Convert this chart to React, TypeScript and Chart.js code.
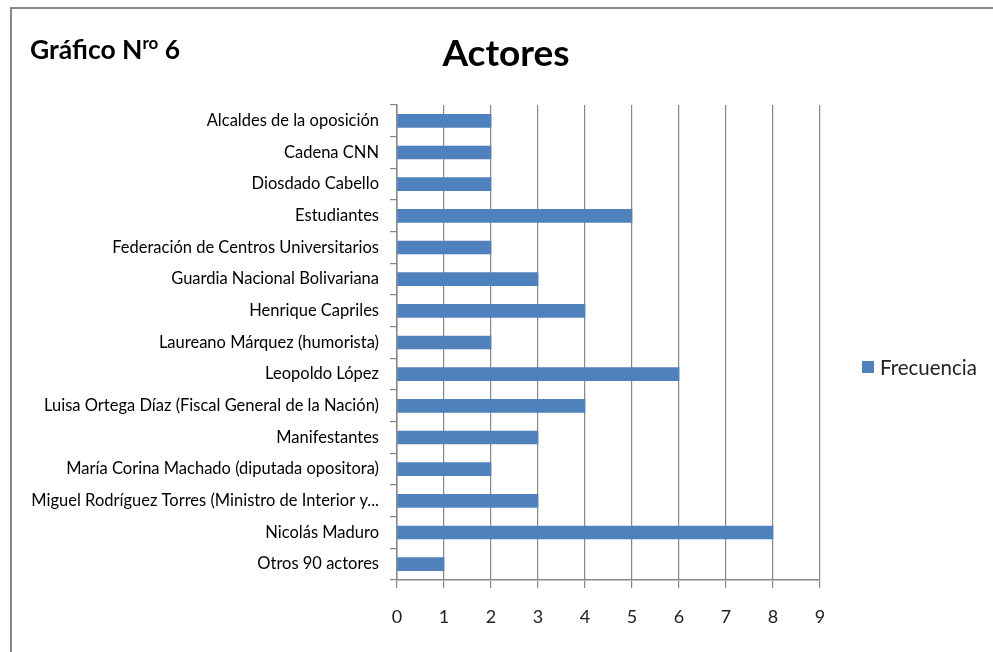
import React, { useEffect, useRef } from "react";
import { Chart, registerables } from "chart.js";

Chart.register(...registerables);

const categories = [
  "Alcaldes de la oposición",
  "Cadena CNN",
  "Diosdado Cabello",
  "Estudiantes",
  "Federación de Centros Universitarios",
  "Guardia Nacional Bolivariana",
  "Henrique Capriles",
  "Laureano Márquez (humorista)",
  "Leopoldo López",
  "Luisa Ortega Díaz (Fiscal General de la Nación)",
  "Manifestantes",
  "María Corina Machado (diputada opositora)",
  "Miguel Rodríguez Torres (Ministro de Interior y...",
  "Nicolás Maduro",
  "Otros 90 actores",
];
const frecuencia = [2, 2, 2, 5, 2, 3, 4, 2, 6, 4, 3, 2, 3, 8, 1];
const xTicks = [0, 1, 2, 3, 4, 5, 6, 7, 8, 9];
const seriesName = "Frecuencia";
const chartTitle = "Actores";

const FONT = "Lato, 'Open Sans', sans-serif";
const BAR = "#4F81BD";
const GRID = "#878787";

export default function App() {
  const ref = useRef<HTMLCanvasElement | null>(null);
  useEffect(() => {
    document.documentElement.style.overflow = "hidden";
    document.body.style.overflow = "hidden";
    document.body.style.margin = "0";
    if (!ref.current) return;
    const chart = new Chart(ref.current, {
      type: "bar",
      data: {
        labels: categories,
        datasets: [
          {
            label: seriesName,
            data: frecuencia,
            backgroundColor: BAR,
            borderWidth: 0,
            barThickness: 13,
          },
        ],
      },
      options: {
        indexAxis: "y",
        animation: false,
        responsive: false,
        maintainAspectRatio: false,
        layout: { padding: { left: 10, right: 173, top: 105, bottom: 0 } },
        plugins: {
          legend: { display: false },
          title: { display: false },
          tooltip: { enabled: false },
        },
        scales: {
          x: {
            type: "linear",
            min: 0,
            max: 9,
            afterBuildTicks: (s: any) => {
              s.ticks = xTicks.map((v) => ({ value: v }));
            },
            afterFit: (s: any) => {
              s.height = 72;
            },
            border: { display: true, color: GRID, width: 1.5 },
            grid: {
              color: GRID,
              lineWidth: 1.2,
              drawTicks: true,
              tickLength: 8,
              tickColor: GRID,
            },
            ticks: {
              color: "#222",
              font: { family: FONT, size: 18 },
              padding: 18,
              autoSkip: false,
            },
          },
          y: {
            afterFit: (s: any) => {
              s.width = 387;
            },
            border: { display: true, color: GRID, width: 1.5 },
            grid: {
              offset: true,
              drawOnChartArea: false,
              drawTicks: true,
              tickLength: 7,
              tickColor: GRID,
              lineWidth: 1.2,
            },
            ticks: {
              color: "#000",
              font: { family: FONT, size: 16.5 },
              padding: 11,
              autoSkip: false,
            },
          },
        },
      },
    });
    return () => chart.destroy();
  }, []);

  return (
    <div
      style={{
        position: "fixed",
        left: 0,
        top: 0,
        width: 993,
        height: 652,
        background: "#fff",
        overflow: "hidden",
        fontFamily: FONT,
      }}
    >
      <div
        style={{
          position: "absolute",
          left: 10,
          top: 7,
          width: 983,
          height: 2,
          background: "#888",
        }}
      />
      <div
        style={{
          position: "absolute",
          left: 10,
          top: 7,
          width: 2,
          height: 645,
          background: "#888",
        }}
      />
      <canvas
        ref={ref}
        width={993}
        height={652}
        style={{ position: "absolute", left: 0, top: 0, width: 993, height: 652 }}
      />
      <div
        style={{
          position: "absolute",
          left: 30,
          top: 34,
          fontSize: 26.5,
          fontWeight: 700,
          color: "#000",
          whiteSpace: "nowrap",
          lineHeight: "30px",
        }}
      >
        Gráfico N
        <span style={{ fontSize: 17, position: "relative", top: -10 }}>ro</span> 6
      </div>
      <div
        style={{
          position: "absolute",
          left: 0,
          width: 1012,
          top: 30,
          textAlign: "center",
          fontSize: 37,
          fontWeight: 700,
          color: "#000",
          lineHeight: "44px",
        }}
      >
        {chartTitle}
      </div>
      <div
        style={{
          position: "absolute",
          left: 862,
          top: 354,
          display: "flex",
          alignItems: "center",
          fontSize: 20.5,
          color: "#222",
          whiteSpace: "nowrap",
          lineHeight: "26px",
        }}
      >
        <span
          style={{
            display: "inline-block",
            width: 12,
            height: 12,
            background: BAR,
            marginRight: 6,
          }}
        />
        {seriesName}
      </div>
    </div>
  );
}
